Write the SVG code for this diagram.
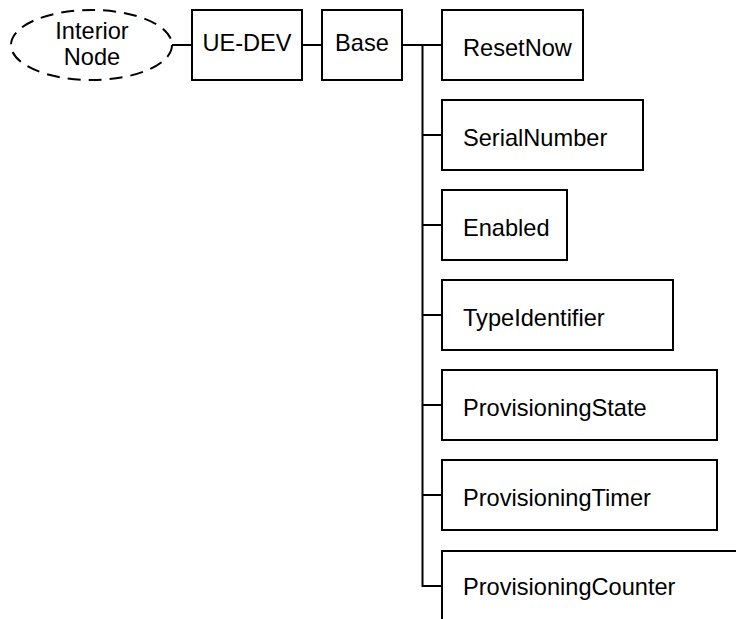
<svg xmlns="http://www.w3.org/2000/svg" width="736" height="619" viewBox="0 0 736 619">
<style>
.box{fill:#fff;stroke:#000;stroke-width:2}
.dash{fill:#fff;stroke:#000;stroke-width:2;stroke-dasharray:13,8}
.ln{fill:none;stroke:#000;stroke-width:2}
text{font-family:"Liberation Sans",Arial,sans-serif;font-size:23.6px;fill:#000}
.c{text-anchor:middle}
</style>
<rect width="736" height="619" fill="#fff"/>
<g id="connectors">
<line class="ln" x1="172" y1="45" x2="192" y2="45"/>
<line class="ln" x1="302" y1="45" x2="322" y2="45"/>
<line class="ln" x1="402" y1="45" x2="442" y2="45"/>
<polyline class="ln" points="422.5,45 422.5,586 442,586"/>
<line class="ln" x1="422.5" y1="135" x2="442" y2="135"/>
<line class="ln" x1="422.5" y1="225" x2="442" y2="225"/>
<line class="ln" x1="422.5" y1="315" x2="442" y2="315"/>
<line class="ln" x1="422.5" y1="405" x2="442" y2="405"/>
<line class="ln" x1="422.5" y1="495" x2="442" y2="495"/>
</g>
<g id="interior-node">
<ellipse class="dash" cx="91.5" cy="45" rx="80.5" ry="35"/>
<text class="c" x="92" y="39">Interior</text>
<text class="c" x="92" y="65">Node</text>
</g>
<g id="ue-dev">
<rect class="box" x="192" y="10" width="110" height="70"/>
<text class="c" x="247" y="51">UE-DEV</text>
</g>
<g id="base">
<rect class="box" x="322" y="10" width="80" height="70"/>
<text class="c" x="362" y="51">Base</text>
</g>
<g id="resetnow">
<rect class="box" x="442" y="10" width="141" height="70"/>
<text x="463" y="56">ResetNow</text>
</g>
<g id="serialnumber">
<rect class="box" x="442" y="100" width="201" height="70"/>
<text x="463" y="146">SerialNumber</text>
</g>
<g id="enabled">
<rect class="box" x="442" y="190" width="125" height="70"/>
<text x="463" y="236">Enabled</text>
</g>
<g id="typeidentifier">
<rect class="box" x="442" y="280" width="231" height="70"/>
<text x="463" y="326">TypeIdentifier</text>
</g>
<g id="provisioningstate">
<rect class="box" x="442" y="370" width="275" height="70"/>
<text x="463" y="416">ProvisioningState</text>
</g>
<g id="provisioningtimer">
<rect class="box" x="442" y="460" width="275" height="70"/>
<text x="463" y="506">ProvisioningTimer</text>
</g>
<g id="provisioningcounter">
<rect class="box" x="442" y="551" width="320" height="80"/>
<text x="463" y="595">ProvisioningCounter</text>
</g>
</svg>
